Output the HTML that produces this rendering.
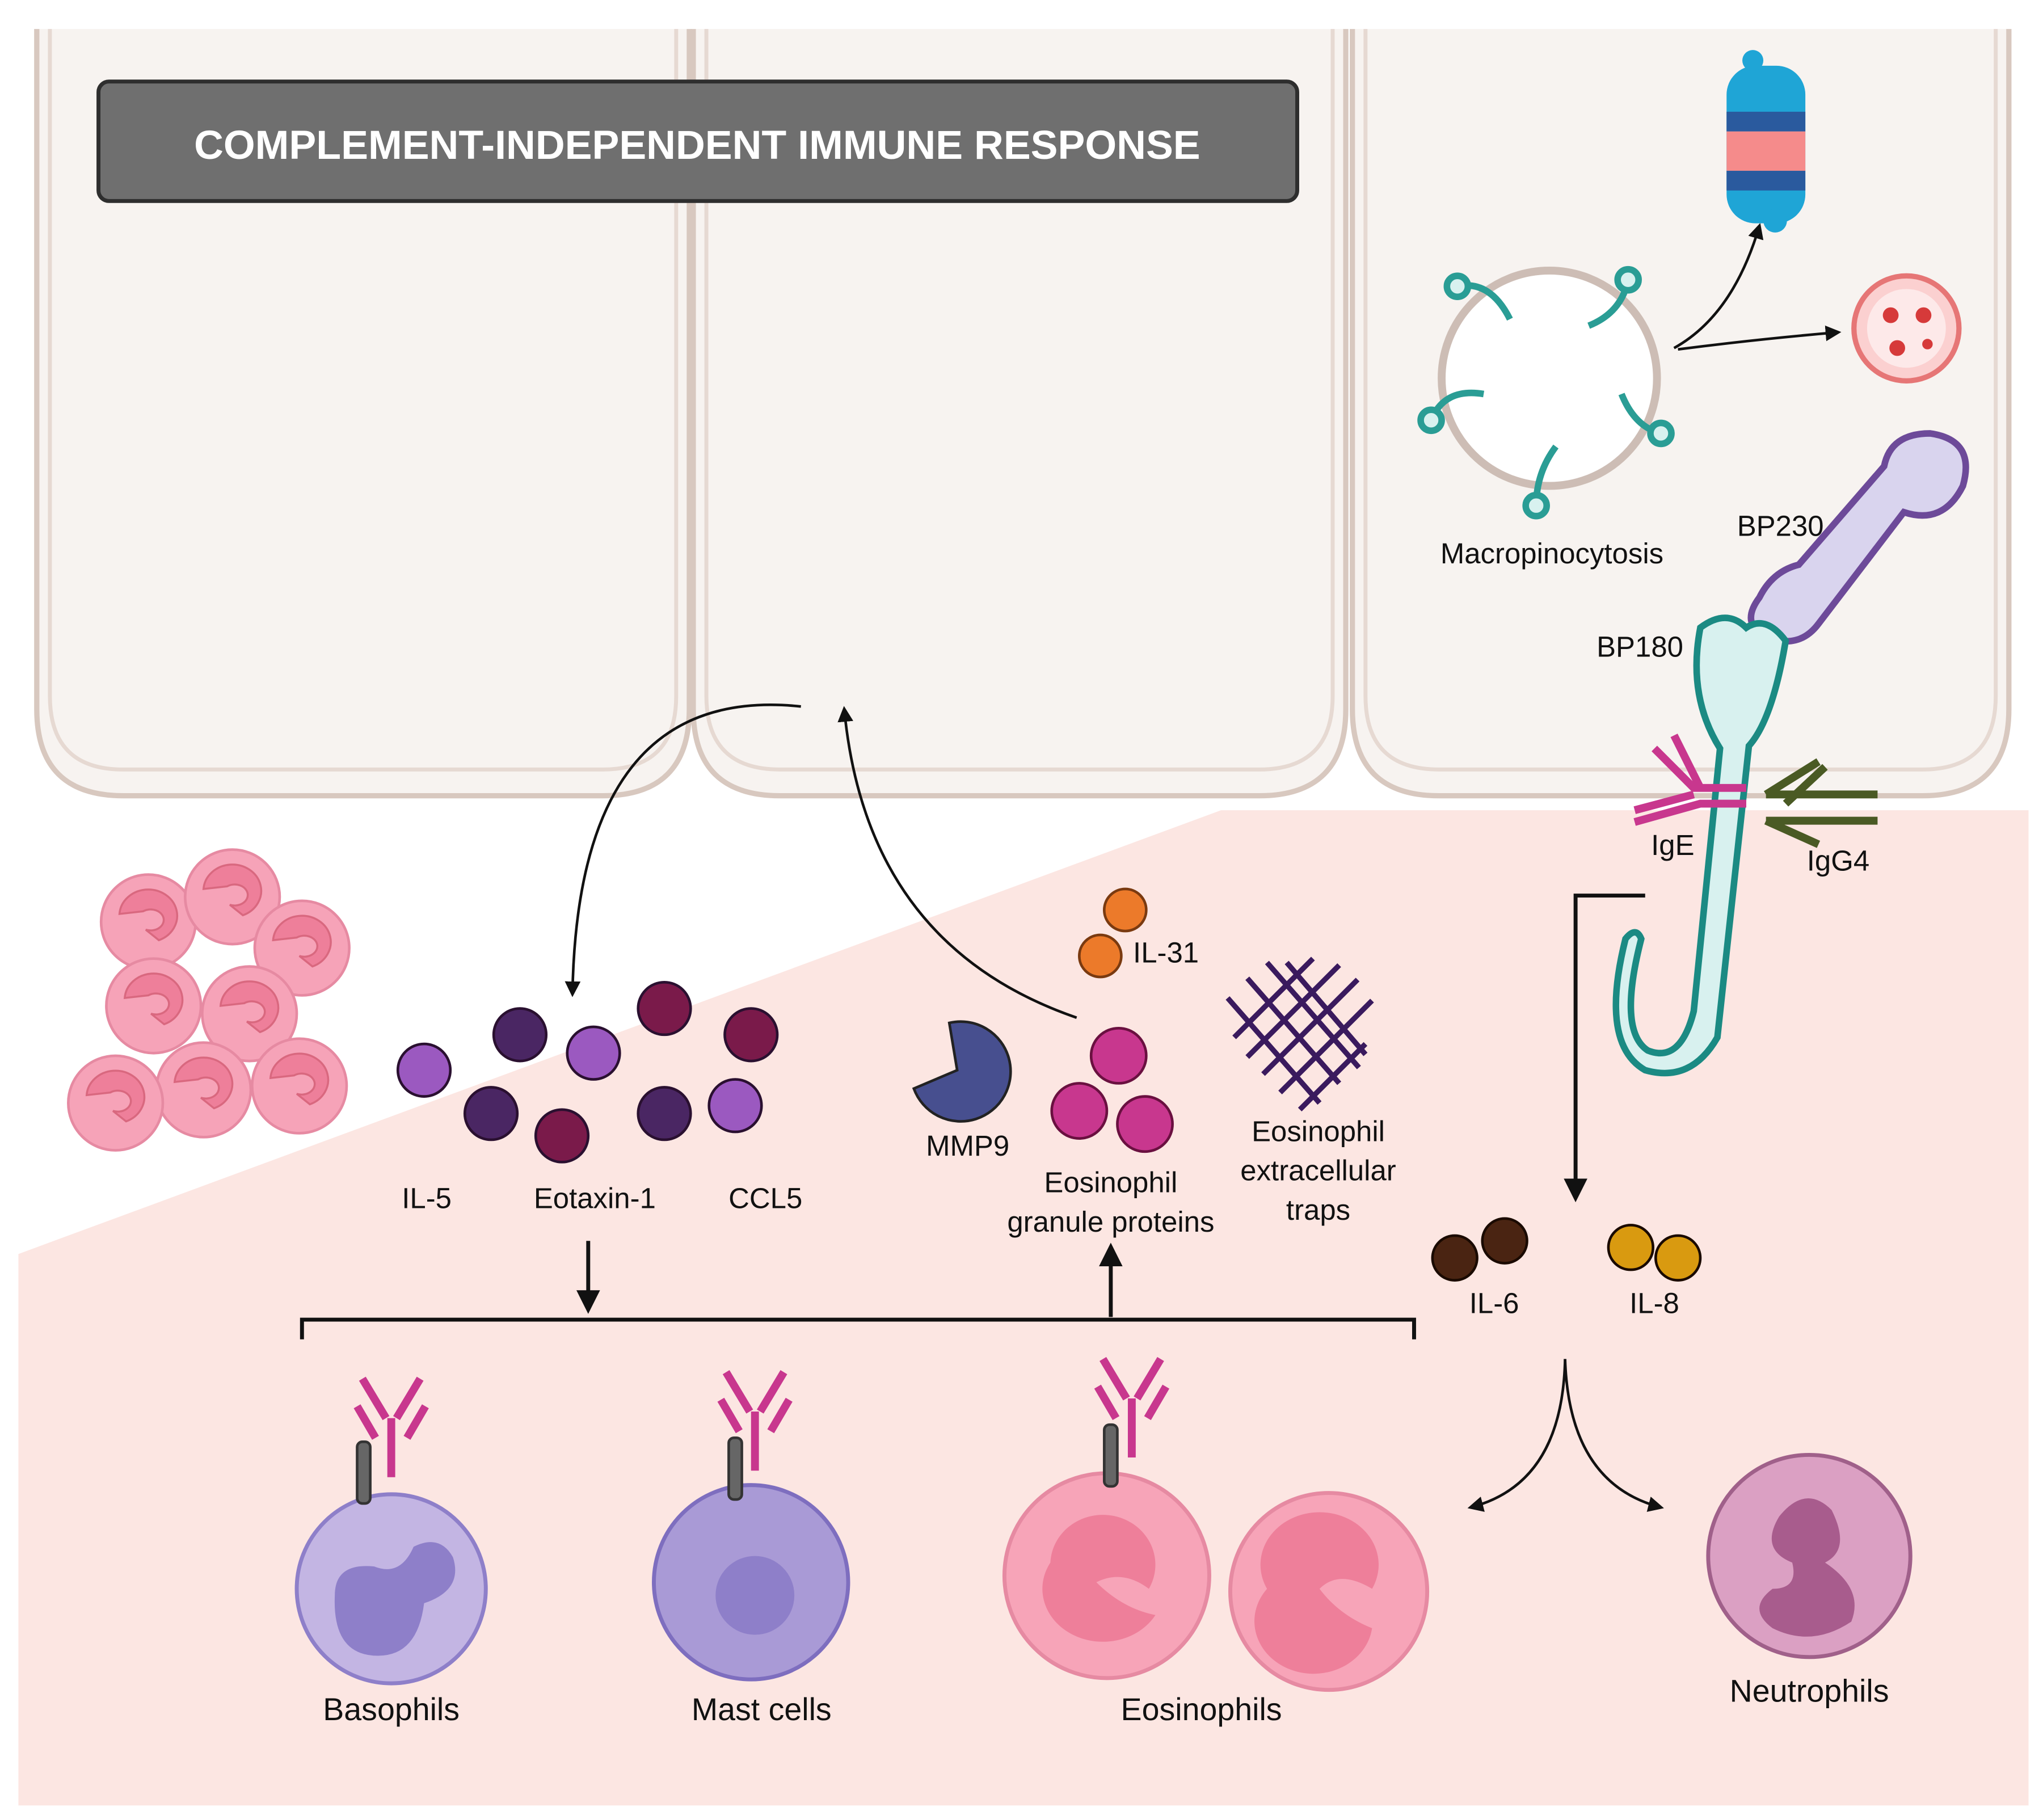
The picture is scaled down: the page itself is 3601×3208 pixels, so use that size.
<!DOCTYPE html>
<html><head><meta charset="utf-8">
<style>
html,body{margin:0;padding:0;background:#fff;}
svg{display:block;}
text{font-family:"Liberation Sans",sans-serif;fill:#111;}
</style></head>
<body>
<svg width="3601" height="3208" viewBox="0 0 1556 1386" xmlns="http://www.w3.org/2000/svg">
<defs>
<marker id="ah" viewBox="0 0 10 10" refX="8" refY="5" markerWidth="6" markerHeight="6" orient="auto-start-reverse">
<path d="M0,0 L10,5 L0,10 z" fill="#111"/></marker>
<g id="pinkcell">
<circle r="36" fill="#f6a3b8" stroke="#e68aa2" stroke-width="2"/>
<path d="M-22,-6 a22,20 0 1,1 30,20 l-10,-8 a10,8 0 1,0 -2,-14 z" fill="#ee7f9a" stroke="#d9687f" stroke-width="1.5"/>
</g>
<g id="ab">
<path d="M0,0 v-45 M-4,-45 l-18,-30 M4,-45 l18,-30 M-12,-30 l-14,-24 M12,-30 l14,-24" stroke="#c8378e" stroke-width="6" fill="none"/>
</g>
</defs>

<!-- pink tissue -->
<polygon points="14,955 930,617 1545,617 1545,1375 14,1375" fill="#fce6e2"/>

<!-- epithelial cells -->
<g fill="#f7f3f0" stroke="#d8c8bf" stroke-width="4">
<path d="M28,22 V540 q0,66 66,66 H459 q66,0 66,-66 V22"/>
<path d="M528,22 V540 q0,66 66,66 H959 q66,0 66,-66 V22"/>
<path d="M1030,22 V540 q0,66 66,66 H1464 q66,0 66,-66 V22"/>
</g>
<g fill="none" stroke="#e6d9d2" stroke-width="3">
<path d="M38,22 V530 q0,56 56,56 H459 q56,0 56,-56 V22"/>
<path d="M538,22 V530 q0,56 56,56 H959 q56,0 56,-56 V22"/>
<path d="M1040,22 V530 q0,56 56,56 H1464 q56,0 56,-56 V22"/>
</g>

<!-- title -->
<rect x="75" y="62" width="913" height="91" rx="8" fill="#6f6f6f" stroke="#2e2e2e" stroke-width="3"/>
<text x="531" y="121" font-size="31" font-weight="bold" text-anchor="middle" style="fill:#fff">COMPLEMENT-INDEPENDENT IMMUNE RESPONSE</text>

<!-- macropinocytosis -->
<circle cx="1180" cy="288" r="82" fill="#fff" stroke="#cdbdb5" stroke-width="6"/>
<g stroke="#2a9d95" stroke-width="5" fill="#d8f1ef">
<path d="M1110,218 q25,-5 40,25" fill="none"/><circle cx="1110" cy="218" r="8"/>
<path d="M1240,213 q-5,25 -30,35" fill="none"/><circle cx="1240" cy="213" r="8"/>
<path d="M1090,320 q10,-25 40,-20" fill="none"/><circle cx="1090" cy="320" r="8"/>
<path d="M1265,330 q-20,-5 -30,-30" fill="none"/><circle cx="1265" cy="330" r="8"/>
<path d="M1170,385 q0,-25 15,-45" fill="none"/><circle cx="1170" cy="385" r="8"/>
</g>
<text x="1182" y="429" font-size="22" text-anchor="middle">Macropinocytosis</text>
<path d="M1275,265 Q1320,240 1340,172" stroke="#111" stroke-width="2" fill="none" marker-end="url(#ah)"/>
<path d="M1278,266 Q1340,258 1400,253" stroke="#111" stroke-width="2" fill="none" marker-end="url(#ah)"/>
<!-- protein stack -->
<g>
<rect x="1315" y="50" width="60" height="120" rx="22" fill="#1fa5d6"/>
<rect x="1315" y="85" width="60" height="15" fill="#2a5a9e"/>
<rect x="1315" y="100" width="60" height="30" fill="#f58b8b"/>
<rect x="1315" y="130" width="60" height="15" fill="#2a5a9e"/>
<circle cx="1335" cy="46" r="8" fill="#1fa5d6"/>
<circle cx="1352" cy="168" r="9" fill="#1fa5d6"/>
</g>
<circle cx="1452" cy="250" r="40" fill="#fbd0d0" stroke="#e67676" stroke-width="4"/>
<circle cx="1452" cy="250" r="30" fill="#fde9e9"/>
<g fill="#d63a3a"><circle cx="1440" cy="240" r="6"/><circle cx="1465" cy="240" r="6"/><circle cx="1445" cy="265" r="6"/><circle cx="1468" cy="262" r="4"/></g>

<!-- BP230 -->
<path d="M1340,455 q-15,20 5,30 q25,10 40,-10 L1450,390 q30,10 45,-20 q10,-35 -25,-40 q-30,0 -35,25 L1370,430 q-20,5 -30,25 z" fill="#d9d4ee" stroke="#6d4a99" stroke-width="5"/>
<text x="1356" y="408" font-size="22" text-anchor="middle">BP230</text>
<!-- BP180 -->
<path d="M1295,478 q20,-15 35,0 q15,-10 30,10 q-10,60 -28,80 L1308,790 q-20,35 -55,25 q-35,-20 -15,-100 q8,-10 12,0 q-18,70 5,85 q25,10 35,-30 L1310,570 q-25,-40 -15,-92 z" fill="#d8f1ef" stroke="#1b8a83" stroke-width="5"/>
<text x="1249" y="500" font-size="22" text-anchor="middle">BP180</text>
<!-- IgE / IgG4 -->
<g stroke="#c8378e" stroke-width="6" fill="none">
<path d="M1330,600 H1290 l-30,-30 M1290,605 l-45,12 M1330,612 H1295 l-50,14 M1295,600 l-20,-40"/>
</g>
<g stroke="#4a5a24" stroke-width="6" fill="none">
<path d="M1345,605 l40,-25 M1345,605 h85 M1345,625 l40,18 M1345,625 h85 M1360,612 l30,-28"/>
</g>
<text x="1274" y="651" font-size="22" text-anchor="middle">IgE</text>
<text x="1400" y="663" font-size="22" text-anchor="middle">IgG4</text>

<!-- connector to IL-6/IL-8 -->
<path d="M1253,682 H1200 V912" stroke="#111" stroke-width="3" fill="none" marker-end="url(#ah)"/>

<!-- left eosinophil cluster -->
<use href="#pinkcell" x="113" y="702"/>
<use href="#pinkcell" x="177" y="683"/>
<use href="#pinkcell" x="230" y="722"/>
<use href="#pinkcell" x="117" y="766"/>
<use href="#pinkcell" x="190" y="772"/>
<use href="#pinkcell" x="155" y="830"/>
<use href="#pinkcell" x="88" y="840"/>
<use href="#pinkcell" x="228" y="827"/>

<!-- cytokines -->
<g stroke="#2a1030" stroke-width="2">
<circle cx="323" cy="815" r="20" fill="#9b59c0"/>
<circle cx="452" cy="802" r="20" fill="#9b59c0"/>
<circle cx="560" cy="842" r="20" fill="#9b59c0"/>
<circle cx="396" cy="788" r="20" fill="#4a2663"/>
<circle cx="374" cy="848" r="20" fill="#4a2663"/>
<circle cx="506" cy="848" r="20" fill="#4a2663"/>
<circle cx="506" cy="768" r="20" fill="#7a1a4a"/>
<circle cx="572" cy="788" r="20" fill="#7a1a4a"/>
<circle cx="428" cy="865" r="20" fill="#7a1a4a"/>
</g>
<text x="325" y="920" font-size="22" text-anchor="middle">IL-5</text>
<text x="453" y="920" font-size="22" text-anchor="middle">Eotaxin-1</text>
<text x="583" y="920" font-size="22" text-anchor="middle">CCL5</text>

<path d="M610,538 Q440,520 436,757" stroke="#111" stroke-width="2" fill="none" marker-end="url(#ah)"/>
<path d="M820,775 Q660,720 643,540" stroke="#111" stroke-width="2" fill="none" marker-end="url(#ah)"/>

<g stroke="#7a3a10" stroke-width="2" fill="#ec7a2a">
<circle cx="857" cy="693" r="16"/><circle cx="838" cy="728" r="16"/></g>
<text x="888" y="733" font-size="22" text-anchor="middle">IL-31</text>

<path d="M733,815 m-10,-36 a38,38 0 1,1 -27,50 l33,-14 z" fill="#474f8f" stroke="#222" stroke-width="2"/>
<text x="737" y="880" font-size="22" text-anchor="middle">MMP9</text>

<g stroke="#6a1040" stroke-width="2" fill="#c8378e">
<circle cx="852" cy="804" r="21"/><circle cx="822" cy="846" r="21"/><circle cx="872" cy="856" r="21"/></g>
<text x="846" y="908" font-size="22" text-anchor="middle">Eosinophil</text>
<text x="846" y="938" font-size="22" text-anchor="middle">granule proteins</text>

<g stroke="#3a1a5e" stroke-width="4">
<path d="M940,790 l60,-60 M950,805 l70,-70 M962,818 l72,-72 M975,832 l70,-70 M990,845 l50,-50"/>
<path d="M935,760 l70,80 M950,745 l70,80 M965,733 l70,80 M980,733 l60,70"/>
</g>
<text x="1004" y="869" font-size="22" text-anchor="middle">Eosinophil</text>
<text x="1004" y="899" font-size="22" text-anchor="middle">extracellular</text>
<text x="1004" y="929" font-size="22" text-anchor="middle">traps</text>

<path d="M448,945 V997" stroke="#111" stroke-width="3" fill="none" marker-end="url(#ah)"/>
<path d="M846,1003 V950" stroke="#111" stroke-width="3" fill="none" marker-end="url(#ah)"/>
<path d="M230,1020 V1005 H1077 V1020" stroke="#111" stroke-width="3" fill="none"/>

<g stroke="#1a0a00" stroke-width="2">
<circle cx="1108" cy="958" r="17" fill="#4a2412"/><circle cx="1146" cy="945" r="17" fill="#4a2412"/>
<circle cx="1242" cy="950" r="17" fill="#d99a10"/><circle cx="1278" cy="958" r="17" fill="#d99a10"/></g>
<text x="1138" y="1000" font-size="22" text-anchor="middle">IL-6</text>
<text x="1260" y="1000" font-size="22" text-anchor="middle">IL-8</text>
<path d="M1192,1035 Q1190,1130 1120,1148" stroke="#111" stroke-width="2" fill="none" marker-end="url(#ah)"/>
<path d="M1192,1035 Q1195,1130 1265,1148" stroke="#111" stroke-width="2" fill="none" marker-end="url(#ah)"/>

<!-- bottom cells -->
<circle cx="298" cy="1210" r="72" fill="#c3b5e3" stroke="#8e7fc9" stroke-width="3"/>
<path d="M255,1215 q0,-25 30,-22 q20,8 30,-15 q20,-10 30,8 q8,25 -22,35 q-5,40 -35,40 q-35,0 -33,-46 z" fill="#8e7fc9"/>
<circle cx="572" cy="1205" r="74" fill="#a99ad6" stroke="#7e6ebf" stroke-width="3"/>
<circle cx="575" cy="1215" r="30" fill="#8e7fc9"/>
<circle cx="843" cy="1200" r="78" fill="#f7a4b8" stroke="#e68aa2" stroke-width="3"/>
<path d="M800,1190 a40,38 0 1,1 75,20 q-20,-15 -40,-5 q20,20 45,25 a40,35 0 1,1 -80,-40 z" fill="#ee7f9a"/>
<circle cx="1012" cy="1212" r="75" fill="#f7a4b8" stroke="#e68aa2" stroke-width="3"/>
<path d="M965,1210 a45,40 0 1,1 80,0 q-25,-15 -40,0 q15,20 40,30 a45,40 0 1,1 -80,-30 z" fill="#ee7f9a"/>
<use href="#ab" x="298" y="1125"/>
<use href="#ab" x="575" y="1120"/>
<use href="#ab" x="862" y="1110"/>
<g stroke="#333" stroke-width="2" fill="#666">
<rect x="272" y="1098" width="10" height="47" rx="4"/>
<rect x="555" y="1095" width="10" height="47" rx="4"/>
<rect x="841" y="1085" width="10" height="47" rx="4"/></g>
<text x="298" y="1310" font-size="24" text-anchor="middle">Basophils</text>
<text x="580" y="1310" font-size="24" text-anchor="middle">Mast cells</text>
<text x="915" y="1310" font-size="24" text-anchor="middle">Eosinophils</text>

<circle cx="1378" cy="1185" r="77" fill="#dba0c3" stroke="#a0608a" stroke-width="3"/>
<path d="M1355,1155 q20,-25 40,-5 q15,30 -5,40 q30,20 20,45 q-30,20 -60,5 q-20,-15 0,-30 q20,0 15,-20 q-25,-10 -10,-35 z" fill="#a85c8d"/>
<text x="1378" y="1296" font-size="24" text-anchor="middle">Neutrophils</text>
</svg>
</body></html>
